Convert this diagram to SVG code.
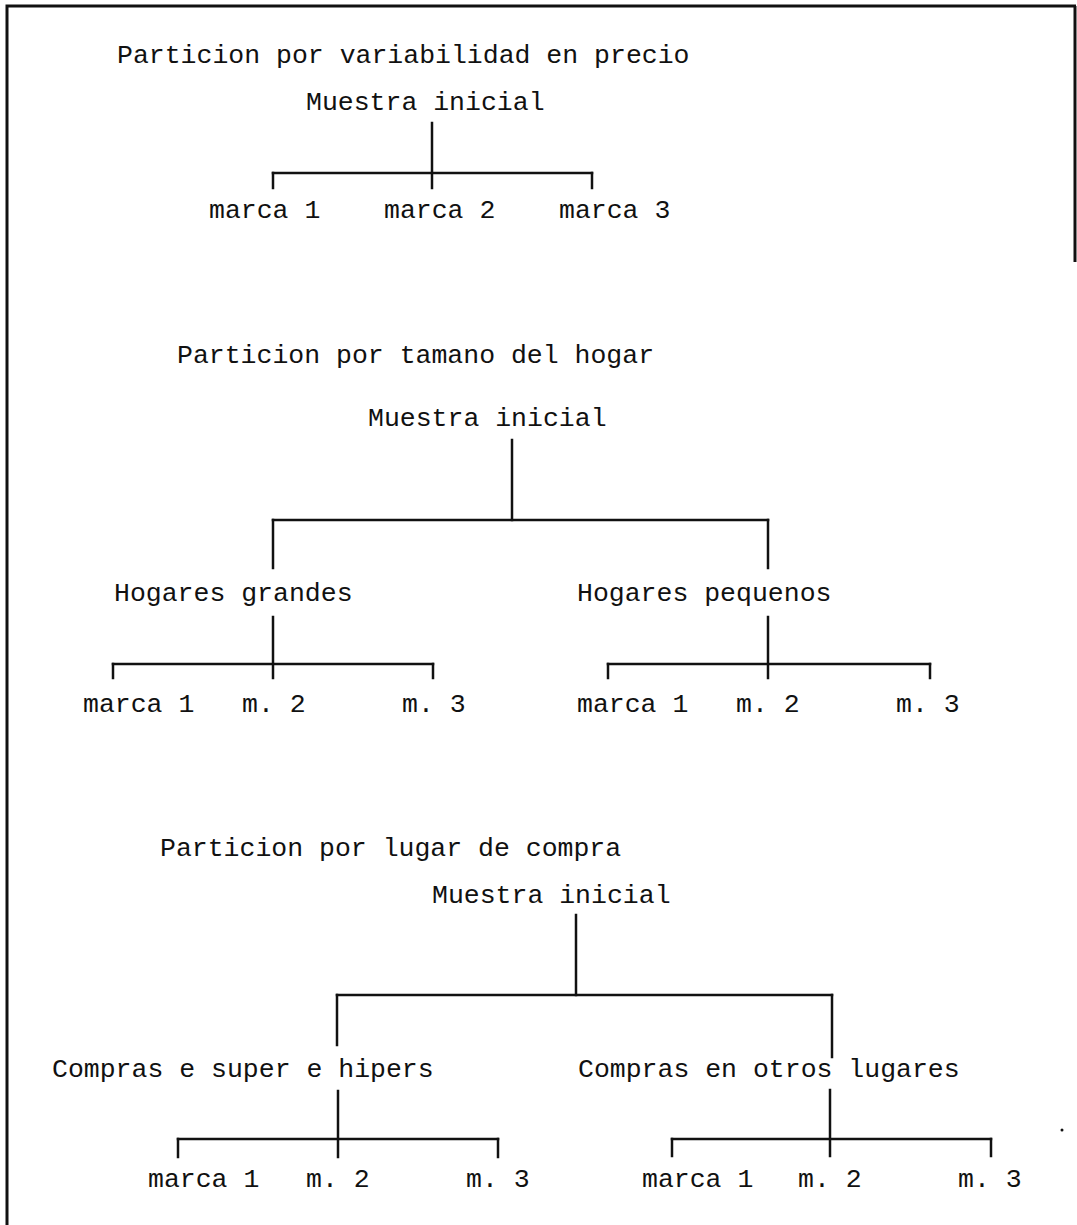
<svg xmlns="http://www.w3.org/2000/svg" width="1077" height="1225" viewBox="0 0 1077 1225">
<style>
text{font-family:"Liberation Mono","Courier New",monospace;font-size:26.5px;fill:#111}
.c line{stroke:#111;stroke-width:2.5;stroke-linecap:square}
.frame{stroke:#111;stroke-width:3;fill:none}
</style>
<rect width="1077" height="1225" fill="#fff"/>
<g id="frame">
<polyline class="frame" points="7,1225 7,6 1076,6"/>
<line class="frame" x1="1075" y1="6" x2="1075" y2="262" stroke-width="2"/>
</g>
<g id="titles">
<text x="117" y="63">Particion por variabilidad en precio</text>
<text x="177" y="363">Particion por tamano del hogar</text>
<text x="160" y="856">Particion por lugar de compra</text>
</g>
<g class="c" id="connectors">
<!-- tree 1 -->
<line x1="432" y1="123" x2="432" y2="188"/>
<line x1="273" y1="173" x2="592" y2="173"/>
<line x1="273" y1="173" x2="273" y2="188"/>
<line x1="592" y1="173" x2="592" y2="188"/>
<!-- tree 2 -->
<line x1="512" y1="440" x2="512" y2="520"/>
<line x1="273" y1="520" x2="768" y2="520"/>
<line x1="273" y1="520" x2="273" y2="568"/>
<line x1="768" y1="520" x2="768" y2="568"/>
<line x1="273" y1="617" x2="273" y2="678"/>
<line x1="113" y1="664" x2="433" y2="664"/>
<line x1="113" y1="664" x2="113" y2="678"/>
<line x1="433" y1="664" x2="433" y2="678"/>
<line x1="768" y1="617" x2="768" y2="678"/>
<line x1="608" y1="664" x2="930" y2="664"/>
<line x1="608" y1="664" x2="608" y2="678"/>
<line x1="930" y1="664" x2="930" y2="678"/>
<!-- tree 3 -->
<line x1="576" y1="915" x2="576" y2="995"/>
<line x1="337" y1="995" x2="832" y2="995"/>
<line x1="337" y1="995" x2="337" y2="1045"/>
<line x1="832" y1="995" x2="832" y2="1057"/>
<line x1="338" y1="1091" x2="338" y2="1157"/>
<line x1="178" y1="1139" x2="498" y2="1139"/>
<line x1="178" y1="1139" x2="178" y2="1157"/>
<line x1="498" y1="1139" x2="498" y2="1157"/>
<line x1="830" y1="1090" x2="830" y2="1156"/>
<line x1="672" y1="1139" x2="991" y2="1139"/>
<line x1="672" y1="1139" x2="672" y2="1156"/>
<line x1="991" y1="1139" x2="991" y2="1156"/>
</g>
<g id="t1-root"><text x="306" y="110">Muestra inicial</text></g>
<g id="t1-m1"><text x="209" y="218">marca 1</text></g>
<g id="t1-m2"><text x="384" y="218">marca 2</text></g>
<g id="t1-m3"><text x="559" y="218">marca 3</text></g>
<g id="t2-root"><text x="368" y="426">Muestra inicial</text></g>
<g id="t2-grandes"><text x="114" y="601">Hogares grandes</text></g>
<g id="t2-pequenos"><text x="577" y="601">Hogares pequenos</text></g>
<g id="t2-g-m1"><text x="83" y="712">marca 1</text></g>
<g id="t2-g-m2"><text x="242" y="712">m. 2</text></g>
<g id="t2-g-m3"><text x="402" y="712">m. 3</text></g>
<g id="t2-p-m1"><text x="577" y="712">marca 1</text></g>
<g id="t2-p-m2"><text x="736" y="712">m. 2</text></g>
<g id="t2-p-m3"><text x="896" y="712">m. 3</text></g>
<g id="t3-root"><text x="432" y="903">Muestra inicial</text></g>
<g id="t3-super"><text x="52" y="1077">Compras e super e hipers</text></g>
<g id="t3-otros"><text x="578" y="1077">Compras en otros lugares</text></g>
<g id="t3-s-m1"><text x="148" y="1187">marca 1</text></g>
<g id="t3-s-m2"><text x="306" y="1187">m. 2</text></g>
<g id="t3-s-m3"><text x="466" y="1187">m. 3</text></g>
<g id="t3-o-m1"><text x="642" y="1187">marca 1</text></g>
<g id="t3-o-m2"><text x="798" y="1187">m. 2</text></g>
<g id="t3-o-m3"><text x="958" y="1187">m. 3</text></g>
<circle cx="1062" cy="1130" r="1.5" fill="#111"/>
</svg>
